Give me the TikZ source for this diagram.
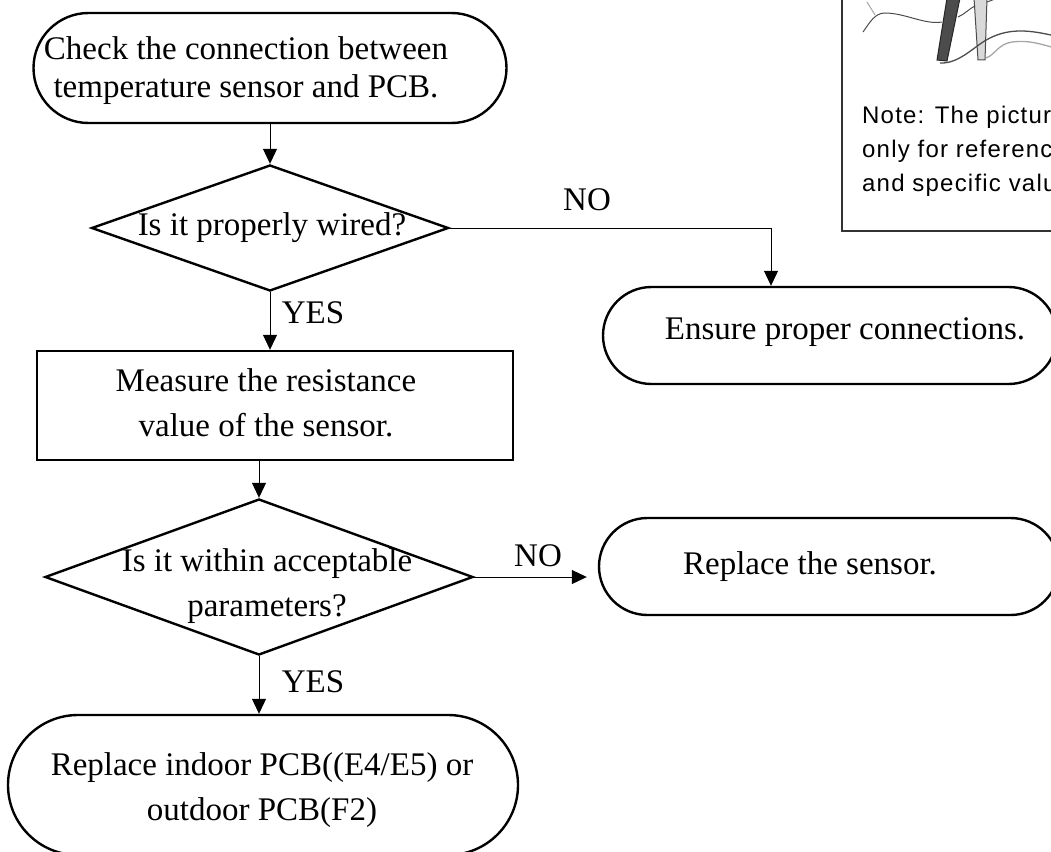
\documentclass[tikz,border=0pt]{standalone}
\usepackage{fontspec}
\setmainfont{Liberation Serif}
\newfontfamily\notefont[LetterSpace=5]{Liberation Sans}
\usetikzlibrary{shapes.geometric,shapes.misc,arrows.meta}

\tikzset{
  box/.style={draw, line width=2.4pt, inner sep=0pt},
  term/.style={box, rounded rectangle},
  decide/.style={box, diamond},
  txt/.style={align=center, inner sep=0pt, font=\fontsize{33}{45}\selectfont},
  link/.style={line width=1pt, -{Triangle[length=15pt,width=14pt]}},
  wire/.style={draw=black!70, line width=1pt}
}

\begin{document}
\begin{tikzpicture}[x=1pt,y=-1pt]
\useasboundingbox (0,0) rectangle (1051,851);
\clip (0,0) rectangle (1051,851);

% shapes
\node[term, minimum width=473pt, minimum height=110pt] (chk) at (270,68) {};
\node[decide, minimum width=357pt, minimum height=126pt] (wired) at (270,228) {};
\node[box, minimum width=476pt, minimum height=109pt] (meas) at (275,405.5) {};
\node[decide, minimum width=428pt, minimum height=156pt] (range) at (259,577) {};
\node[term, minimum width=510pt, minimum height=140pt] (pcb) at (263,785) {};
\node[term, minimum width=454pt, minimum height=97pt] (fix) at (830,335.5) {};
\node[term, minimum width=460pt, minimum height=97pt] (swap) at (829,566.5) {};

% texts
\node[txt, font=\fontsize{33}{38}\selectfont] (chk-t) at (246,71) {Check the connection between\\temperature sensor and PCB.};
\node[txt] (wired-t) at (272,228) {Is it properly wired?};
\node[txt] (meas-t) at (266,403) {Measure the resistance\\value of the sensor.};
\node[txt] (range-t) at (267,586) {Is it within acceptable\\parameters?};
\node[txt] (pcb-t) at (262,790) {Replace indoor PCB((E4/E5) or\\outdoor PCB(F2)};
\node[txt] (fix-t) at (845,332) {Ensure proper connections.};
\node[txt] (swap-t) at (810,567) {Replace the sensor.};

% yes / no
\node[txt] (yes1) at (313,313) {YES};
\node[txt] (yes2) at (313,682) {YES};
\node[txt] (no1) at (587,200) {NO};
\node[txt] (no2) at (538,556) {NO};

% connectors
\coordinate (bend) at (771,228);
\draw[link] (chk.south) -- (wired.north);
\draw[link] (wired.south) -- (wired.south |- meas.north);
\draw[link] (wired.east) -- (bend) -- (bend |- fix.north);
\draw[link] (range.north |- meas.south) -- (range.north);
\draw[link] (range.south) -- (range.south |- pcb.north);
\draw[link, shorten >=11pt] (range.east) -- (range.east -| swap.west);

% note box with the probe sketch
\draw[line width=1.5pt, black!80] (842,-10) rectangle (1100,231);
\filldraw[fill=black!70, draw=black!85, line width=1pt] (947,-2) -- (960,-2) -- (947,61) -- (937,60) -- cycle;
\filldraw[fill=black!15, draw=black!70, line width=1pt] (974,-2) -- (987,-2) -- (985,60) -- (978,60) -- cycle;
\draw[wire] (863,32) .. controls (870,22) and (875,13) .. (885,13) .. controls (905,13) and (925,25) .. (942,22);
\draw[wire] (958,17) .. controls (965,14) and (970,8) .. (975,6);
\draw[wire] (987,2) -- (995,-1);
\draw[wire, draw=black!35] (867,2) -- (875,15);
\draw[wire, line width=1.3pt] (940,63) .. controls (960,64) and (975,45) .. (990,38) .. controls (1010,28) and (1030,30) .. (1055,36);
\draw[wire, draw=black!35, line width=1.3pt] (986,58) .. controls (995,55) and (998,44) .. (1012,42) .. controls (1030,40) and (1040,44) .. (1055,48);
\node[anchor=west, align=left, inner sep=0pt, font=\notefont\fontsize{24}{34}\selectfont] (note) at (862,151) {Note: The pictur\\only for referenc\\and specific valu};
\end{tikzpicture}
\end{document}
